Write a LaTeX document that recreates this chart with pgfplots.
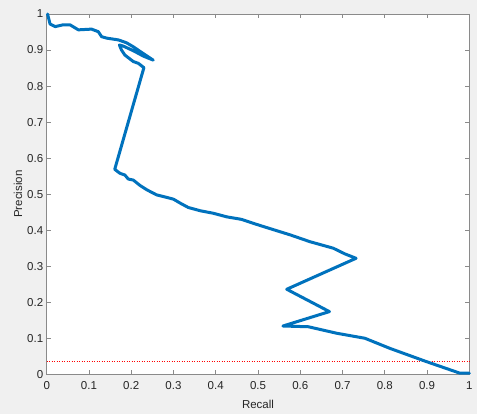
\documentclass[border=0pt]{standalone}
\usepackage{fontspec}
\setmainfont{Liberation Sans}
\usepackage{pgfplots}
\pgfplotsset{compat=1.18}
\definecolor{figbg}{HTML}{F0F0F0}
\definecolor{axgray}{HTML}{8A8A8A}
\definecolor{mblue}{HTML}{0072BD}
\begin{document}
\begin{tikzpicture}
% figure background (MATLAB grey)
\fill[figbg] (-46.7pt,-39.7pt) rectangle (430.3pt,374.3pt);
\begin{axis}[
  at={(0,0)}, anchor=south west,
  scale only axis,
  width=422.6pt, height=360.3pt,
  xmin=0, xmax=1, ymin=0, ymax=1,
  xtick={0,0.1,...,1}, ytick={0,0.1,...,1},
  tick align=inside,
  major tick length=4pt,
  axis line style={axgray, line width=0.8pt},
  every tick/.style={axgray, line width=0.8pt},
  axis background/.style={fill=white},
  ticklabel style={font=\fontsize{11.5}{13}\selectfont, text=black!85},
  xticklabel style={yshift=-4pt},
  /pgf/number format/assume math mode=true,
  /pgf/number format/fixed,
  /pgf/number format/precision=1,
  xlabel={Recall}, ylabel={Precision},
  label style={font=\fontsize{11.5}{13}\selectfont, text=black!85},
  xlabel style={yshift=-3pt},
  ylabel style={yshift=-2pt},
  clip=false,
]
% no-skill baseline
\addplot[red, dotted, line width=0.5pt] coordinates {(0,0.035) (1,0.035)};

% precision-recall curve
\addplot[mblue, line width=3pt, line join=round, line cap=round] coordinates {
  (0.002,1.000) (0.008,0.972) (0.020,0.965) (0.039,0.970) (0.055,0.970)
  (0.075,0.956) (0.106,0.958) (0.122,0.951) (0.130,0.937) (0.142,0.933)
  (0.170,0.928) (0.189,0.920) (0.205,0.909) (0.225,0.893) (0.252,0.872)
  (0.229,0.883) (0.205,0.898) (0.181,0.911) (0.172,0.914)
  (0.177,0.900) (0.185,0.886) (0.205,0.868) (0.217,0.863) (0.230,0.851)
  (0.161,0.569) (0.173,0.558) (0.185,0.553) (0.193,0.542) (0.205,0.539)
  (0.221,0.524) (0.237,0.512) (0.260,0.498) (0.284,0.491) (0.300,0.486)
  (0.319,0.473) (0.335,0.463) (0.363,0.454) (0.394,0.447) (0.426,0.437)
  (0.461,0.430) (0.489,0.419) (0.513,0.410) (0.576,0.387) (0.623,0.368)
  (0.678,0.350) (0.706,0.334) (0.732,0.322)
  (0.568,0.236) (0.669,0.174) (0.559,0.134)
  (0.619,0.132) (0.686,0.114) (0.753,0.100) (0.812,0.072) (0.899,0.035)
  (0.978,0.003) (1.000,0.003)
};
\end{axis}
\end{tikzpicture}
\end{document}
